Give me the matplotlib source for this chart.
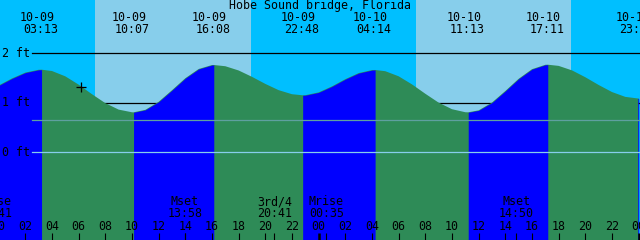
import numpy as np
import matplotlib
matplotlib.use("Agg")
import matplotlib.pyplot as plt
from matplotlib.transforms import blended_transform_factory

# ---------------- data ----------------
title = "Hobe Sound bridge, Florida"

# hourly tide heights (ft), hours counted from 10-09 00:00
hours = list(range(49))
heights = [1.348, 1.491, 1.609, 1.666, 1.641, 1.533, 1.365, 1.171, 0.990, 0.859,
           0.805, 0.854, 1.018, 1.252, 1.495, 1.682, 1.762, 1.738, 1.652, 1.523,
           1.380, 1.253, 1.171, 1.151, 1.208, 1.330, 1.476, 1.599, 1.660, 1.637,
           1.534, 1.370, 1.180, 1.000, 0.867, 0.806, 0.844, 1.002, 1.236, 1.484,
           1.678, 1.767, 1.745, 1.654, 1.515, 1.358, 1.215, 1.117, 1.086]

# tide events
tide_days = ["10-09", "10-09", "10-09", "10-09", "10-10", "10-10", "10-10", "10-10"]
tide_times = ["03:13", "10:07", "16:08", "22:48", "04:14", "11:13", "17:11", "23:56"]
tide_kinds = ["High", "Low", "High", "Low", "High", "Low", "High", "Low"]
tide_heights = [1.668, 0.804, 1.763, 1.149, 1.662, 0.804, 1.769, 1.085]

# sun (daylight bands)
sunrise_days = ["10-09", "10-10"]
sunrise_times = ["07:13", "07:18"]
sunset_days = ["10-09", "10-10"]
sunset_times = ["18:54", "18:56"]

# moon events
moon_labels = ["Mrise", "Mset", "3rd/4", "Mrise", "Mset"]
moon_days = ["10-08", "10-09", "10-09", "10-10", "10-10"]
moon_times = ["23:41", "13:58", "20:41", "00:35", "14:50"]

# current-time mark
now_day, now_time, now_height = "10-09", "06:10", 1.31

depth_levels = [2, 1, 0]
depth_labels = ["2 ft", "1 ft", "0 ft"]
msl_level = 0.642
hour_ticks = list(range(0, 49, 2))

# ---------------- helpers ----------------
day_offset = {"10-08": -24.0, "10-09": 0.0, "10-10": 24.0, "10-11": 48.0}


def to_hours(day, hm):
    h, m = hm.split(":")
    return day_offset[day] + int(h) + int(m) / 60.0


t0 = 0.1
x0, x1 = t0, t0 + 48.0
ybot, ytop = -1.783, 3.080

NIGHT = "#00BFFF"
DAY = "#87CEEB"
RISE = "#0000FF"
FALL = "#2E8B57"
FONT = dict(family="DejaVu Sans Mono", size=8.4, color="black")

fig = plt.figure(figsize=(6.4, 2.4), dpi=100)
ax = fig.add_axes([0, 0, 1, 1])
ax.set_xlim(x0, x1)
ax.set_ylim(ybot, ytop)
ax.axis("off")
bt = blended_transform_factory(ax.transData, ax.transAxes)
bt_y = blended_transform_factory(ax.transAxes, ax.transData)

# sky
ax.axvspan(x0 - 5, x1 + 5, color=NIGHT, lw=0, zorder=0)
for rd, rt, sd, st in zip(sunrise_days, sunrise_times, sunset_days, sunset_times):
    ax.axvspan(to_hours(rd, rt), to_hours(sd, st), color=DAY, lw=0, zorder=0.5)

# depth lines (behind tide)
for lev in depth_levels[:2]:
    ax.plot([32 / 640, 1], [lev, lev], transform=bt_y, color="black", lw=0.9, zorder=1)

# tide curve
ev_t = [to_hours(d, t) for d, t in zip(tide_days, tide_times)]
all_t = np.array(hours + ev_t, dtype=float)
all_h = np.array(heights + tide_heights, dtype=float)
order = np.argsort(all_t)
all_t, all_h = all_t[order], all_h[order]

ax.fill_between(all_t, ybot - 1, all_h, color=FALL, lw=0, zorder=2)
bounds = [-1e9] + ev_t + [1e9]
for i in range(len(bounds) - 1):
    a, b = bounds[i], bounds[i + 1]
    next_kind = tide_kinds[i] if i < len(tide_kinds) else ("High" if tide_kinds[-1] == "Low" else "Low")
    if next_kind == "High":
        m = (all_t >= a) & (all_t <= b)
        ax.fill_between(all_t[m], ybot - 1, all_h[m], color=RISE, lw=0, zorder=3)

# msl and datum lines (over tide)
ax.plot([32 / 640, 1], [msl_level, msl_level], transform=bt_y, color="#5FA0A0", lw=0.9, zorder=4)
ax.plot([32 / 640, 1], [0, 0], transform=bt_y, color="#87CEEB", lw=0.9, zorder=4)

# depth labels
for lev, lab in zip(depth_levels, depth_labels):
    ax.text(2 / 640, lev, lab, transform=bt_y, ha="left", va="center", zorder=6, **FONT)

# now mark
ax.plot([to_hours(now_day, now_time)], [now_height], marker="+", ms=7, mew=0.9,
        color="black", zorder=6)

# title
ax.text(0.5, 1 - 6 / 240, title, transform=ax.transAxes, ha="center", va="center", zorder=7, **FONT)

# tide event labels
for d, t, x in zip(tide_days, tide_times, ev_t):
    ax.annotate(d, xy=(x, 1 - 17.7 / 240), xycoords=bt, xytext=(-4.5, 0),
                textcoords="offset pixels", ha="center", va="center", zorder=7, **FONT)
    ax.annotate(t, xy=(x, 1 - 29.7 / 240), xycoords=bt, xytext=(-1, 0),
                textcoords="offset pixels", ha="center", va="center", zorder=7, **FONT)

# hour ticks
for h in hour_ticks:
    lw = 1.8 if h % 24 == 0 else 0.8
    ax.plot([h, h], [0, 7 / 240], transform=bt, color="black", lw=lw, zorder=6,
            solid_capstyle="butt")
    ax.text(h, 1 - 226 / 240, "%02d" % (h % 24), transform=bt, ha="center", va="center",
            zorder=7, **FONT)

# moon events
for lab, d, t in zip(moon_labels, moon_days, moon_times):
    x = to_hours(d, t)
    ax.plot([x, x], [0, 7 / 240], transform=bt, color="black", lw=0.8, zorder=6,
            solid_capstyle="butt")
    ax.text(x, 1 - 201.7 / 240, lab, transform=bt, ha="center", va="center", zorder=7, **FONT)
    ax.text(x, 1 - 213.3 / 240, t, transform=bt, ha="center", va="center", zorder=7, **FONT)

fig.savefig("out.png", dpi=100)
